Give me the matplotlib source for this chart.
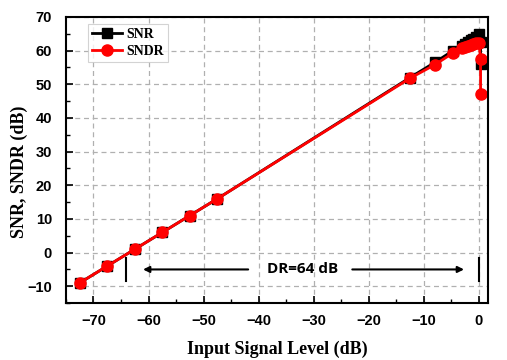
import matplotlib
matplotlib.use('Agg')
import matplotlib.pyplot as plt
from matplotlib.ticker import MultipleLocator

# input level (dB) and measured SNR / SNDR (dB)
level = [-72.5, -67.5, -62.5, -57.5, -52.5, -47.5, -12.5, -8.0, -4.7,
         -3.0, -2.5, -2.0, -1.5, -1.0, -0.5, 0.0, 0.3, 0.3]
snr = [-9.0, -4.0, 1.0, 6.0, 11.0, 16.0, 52.0, 56.5, 60.0,
       61.5, 62.0, 62.5, 63.0, 63.5, 64.0, 64.8, 62.5, 56.0]
sndr = [-9.0, -4.0, 1.0, 6.0, 11.0, 16.0, 51.8, 55.8, 59.3,
        60.8, 61.0, 61.3, 61.6, 62.0, 62.4, 62.3, 57.5, 47.0]

xticks = [-70, -60, -50, -40, -30, -20, -10, 0]
yticks = [-10, 0, 10, 20, 30, 40, 50, 60, 70]

fig = plt.figure(figsize=(5.07, 3.6), dpi=100)
ax = fig.add_axes([0.130, 0.158, 0.832, 0.795])

ax.plot(level, snr, color='black', marker='s', markersize=7, linewidth=2, label='SNR')
ax.plot(level, sndr, color='red', marker='o', markersize=8, linewidth=2, label='SNDR')

ax.set_xlim(-75, 1.6)
ax.set_ylim(-15, 70)
ax.set_xticks(xticks)
ax.set_yticks(yticks)
ax.xaxis.set_minor_locator(MultipleLocator(5))
ax.yaxis.set_minor_locator(MultipleLocator(5))
ax.tick_params(which='both', direction='in', top=False, right=False)
ax.tick_params(which='major', length=5, width=1.2)
ax.tick_params(axis='x', which='major', pad=8)
ax.tick_params(axis='y', which='major', pad=10)
ax.tick_params(which='minor', length=3, width=1.0)
for lab in ax.get_xticklabels() + ax.get_yticklabels():
    lab.set_fontfamily('Liberation Sans')
    lab.set_fontweight('bold')
    lab.set_fontsize(10.5)
for sp in ax.spines.values():
    sp.set_linewidth(1.5)

ax.grid(True, which='major', color='#b0b0b0', linestyle=(0, (4, 3)), linewidth=0.9)
ax.set_axisbelow(True)

ax.set_xlabel('Input Signal Level (dB)', family='Liberation Serif', fontweight='bold',
              fontsize=13, labelpad=9)
ax.set_ylabel('SNR, SNDR (dB)', family='Liberation Serif', fontweight='bold', fontsize=13)
ax.yaxis.set_label_coords(-0.089, 0.46)

leg = ax.legend(loc='upper left', bbox_to_anchor=(0.035, 1.0), fancybox=False,
                prop={'family': 'Liberation Serif', 'weight': 'bold', 'size': 10},
                handlelength=2.2, borderpad=0.3, labelspacing=0.3, handletextpad=0.3)
leg.get_frame().set_edgecolor('#c8c8c8')
leg.get_frame().set_linewidth(0.8)

# dynamic range annotation
ax.plot([-64, -64], [-1.5, -8.5], color='black', linewidth=1.5)
ax.plot([0, 0], [-1.5, -8.5], color='black', linewidth=1.5)
ax.annotate('', xy=(-61.5, -5), xytext=(-41.4, -5),
            arrowprops=dict(arrowstyle='-|>', color='black', lw=1.5, mutation_scale=9))
ax.annotate('', xy=(-2.2, -5), xytext=(-23.5, -5),
            arrowprops=dict(arrowstyle='-|>', color='black', lw=1.5, mutation_scale=9))
ax.text(-32.0, -5, 'DR=64 dB', ha='center', va='center', family='Open Sans',
        fontweight='bold', fontsize=11)

fig.savefig('out.png', dpi=100)
